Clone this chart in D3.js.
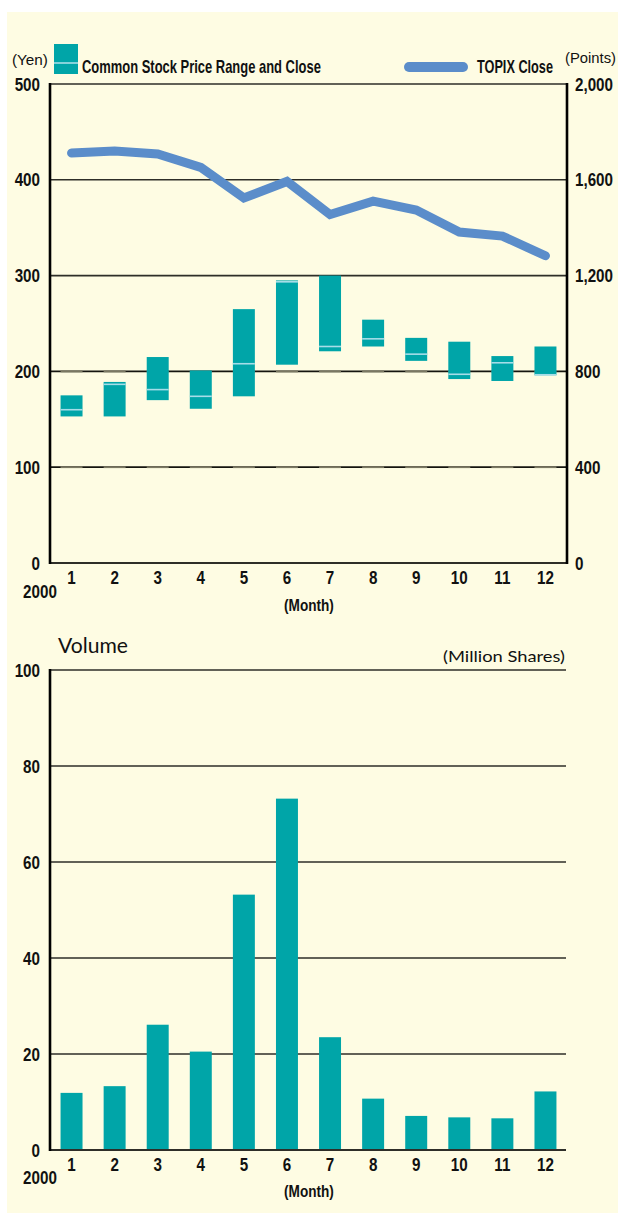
<!DOCTYPE html>
<html>
<head>
<meta charset="utf-8">
<script src="https://cdn.jsdelivr.net/npm/d3@7"></script>
<style>
  body { margin: 0; background: #fff; }
  svg { display: block; }
  .tick text { font-family: "Liberation Sans", sans-serif; font-weight: bold; font-size: 19px; fill: #111; }
</style>
</head>
<body>
<script>
// data
var months = ["1", "2", "3", "4", "5", "6", "7", "8", "9", "10", "11", "12"];
var priceHigh  = [175, 189, 215, 201, 265, 295, 300, 254, 235, 231, 216, 226];
var priceLow   = [153, 153, 170, 161, 174, 207, 221, 226, 211, 192, 190, 196];
var priceClose = [160, 186.5, 181, 174, 208, 293.5, 226, 234, 218, 197, 209, 196.5];
var topixClose = [1712, 1720, 1708, 1652, 1524, 1593, 1455, 1511, 1474, 1382, 1365, 1283];
var volume     = [11.9, 13.3, 26.1, 20.5, 53.2, 73.2, 23.5, 10.7, 7.1, 6.8, 6.6, 12.2];
var priceTicks = [0, 100, 200, 300, 400, 500];
var topixTicks = [0, 400, 800, 1200, 1600, 2000];
var volumeTicks = [0, 20, 40, 60, 80, 100];

var width = 618,
    height = 1213;

var teal = "#00a5a8",
    closeColor = "#a6dde8",
    topixColor = "#5b8dca",
    gridColor = "#2e2e28",
    panelColor = "#fefce3",
    font = "'Liberation Sans', sans-serif";

// the original type is a condensed face: squeeze each text around its anchor
function squeeze(sel, k) {
    sel.each(function() {
        var ax = +this.getAttribute("x") || 0;
        d3.select(this).attr("transform",
            "translate(" + ax + ",0) scale(" + k + ",1) translate(" + (-ax) + ",0)");
    });
}
// squeeze a text so it spans a given width
function fitTo(sel, w) {
    squeeze(sel, w / sel.node().getComputedTextLength());
}

var svg = d3.select("body")
    .append("svg")
    .attr("width", width)
    .attr("height", height);

svg.append("rect")
    .attr("x", 7).attr("y", 12)
    .attr("width", width - 7).attr("height", height - 12)
    .attr("fill", panelColor);

var left = 50, right = 567;

var x = d3.scaleBand()
    .domain(months)
    .range([left, right])
    .paddingInner(0.49)
    .paddingOuter(0.245);

// ---------- price chart ----------
var yPrice = d3.scaleLinear().domain([0, 500]).range([563, 84]);
var yTopix = d3.scaleLinear().domain([0, 2000]).range([563, 84]);

var priceG = svg.append("g");

priceG.selectAll("line.grid")
    .data([300, 400])
    .enter()
    .append("line")
    .attr("x1", left).attr("x2", right)
    .attr("y1", function(d) { return yPrice(d); })
    .attr("y2", function(d) { return yPrice(d); })
    .attr("stroke", gridColor)
    .attr("stroke-width", 1.6);

// the 100 and 200 lines look broken: lighter under each month column
[100, 200].forEach(function(v) {
    priceG.append("line")
        .attr("x1", left).attr("x2", right)
        .attr("y1", yPrice(v)).attr("y2", yPrice(v))
        .attr("stroke", "#15150f")
        .attr("stroke-width", 1.8);
    priceG.selectAll(null)
        .data(months)
        .enter()
        .append("line")
        .attr("x1", function(d) { return x(d); })
        .attr("x2", function(d) { return x(d) + x.bandwidth(); })
        .attr("y1", yPrice(v)).attr("y2", yPrice(v))
        .attr("stroke", "#7a7862")
        .attr("stroke-width", 1.8);
});

// price range boxes
priceG.selectAll("rect.range")
    .data(months)
    .enter()
    .append("rect")
    .attr("x", function(d) { return x(d); })
    .attr("width", x.bandwidth())
    .attr("y", function(d, i) { return yPrice(priceHigh[i]); })
    .attr("height", function(d, i) { return yPrice(priceLow[i]) - yPrice(priceHigh[i]); })
    .attr("fill", teal);

priceG.selectAll("line.close")
    .data(months)
    .enter()
    .append("line")
    .attr("x1", function(d) { return x(d); })
    .attr("x2", function(d) { return x(d) + x.bandwidth(); })
    .attr("y1", function(d, i) { return yPrice(priceClose[i]); })
    .attr("y2", function(d, i) { return yPrice(priceClose[i]); })
    .attr("stroke", closeColor)
    .attr("stroke-width", 1.6);

// TOPIX line
var line = d3.line()
    .x(function(d, i) { return x(months[i]) + x.bandwidth() / 2; })
    .y(function(d) { return yTopix(d); });

priceG.append("path")
    .datum(topixClose)
    .attr("d", line)
    .attr("fill", "none")
    .attr("stroke", topixColor)
    .attr("stroke-width", 9)
    .attr("stroke-linecap", "round")
    .attr("stroke-linejoin", "miter");

// frame
priceG.append("line")
    .attr("x1", left).attr("x2", right)
    .attr("y1", yPrice(500)).attr("y2", yPrice(500))
    .attr("stroke", gridColor).attr("stroke-width", 1.6);
priceG.append("line")
    .attr("x1", left).attr("x2", right)
    .attr("y1", yPrice(0)).attr("y2", yPrice(0))
    .attr("stroke", gridColor).attr("stroke-width", 2);
priceG.append("line")
    .attr("x1", left).attr("x2", left)
    .attr("y1", yPrice(500) - 1).attr("y2", yPrice(0) + 1)
    .attr("stroke", "#000").attr("stroke-width", 2.6);
priceG.append("line")
    .attr("x1", right).attr("x2", right)
    .attr("y1", yPrice(500) - 1).attr("y2", yPrice(0) + 1)
    .attr("stroke", "#000").attr("stroke-width", 2.6);

// axes
var yAxisL = priceG.append("g")
    .attr("transform", "translate(" + left + ",0)")
    .call(d3.axisLeft(yPrice).tickValues(priceTicks).tickSize(0).tickPadding(10));
yAxisL.select(".domain").remove();

var yAxisR = priceG.append("g")
    .attr("transform", "translate(" + right + ",0)")
    .call(d3.axisRight(yTopix).tickValues(topixTicks).tickSize(0).tickPadding(8).tickFormat(d3.format(",")));
yAxisR.select(".domain").remove();

var xAxisTop = priceG.append("g")
    .attr("transform", "translate(0," + yPrice(0) + ")")
    .call(d3.axisBottom(x).tickSize(0).tickPadding(8));
xAxisTop.select(".domain").remove();

// legend
var yen = priceG.append("text")
    .attr("x", 12).attr("y", 65)
    .attr("font-family", font)
    .attr("font-size", 15)
    .attr("fill", "#111")
    .text("(Yen)");
priceG.append("rect")
    .attr("x", 54).attr("y", 44)
    .attr("width", 24).attr("height", 30)
    .attr("fill", teal);
priceG.append("line")
    .attr("x1", 54).attr("x2", 78)
    .attr("y1", 63).attr("y2", 63)
    .attr("stroke", closeColor).attr("stroke-width", 1.6);
var legend1 = priceG.append("text")
    .attr("x", 82).attr("y", 73)
    .attr("font-family", font)
    .attr("font-weight", "bold")
    .attr("font-size", 19)
    .attr("fill", "#111")
    .text("Common Stock Price Range and Close");
priceG.append("line")
    .attr("x1", 409).attr("x2", 463)
    .attr("y1", 67).attr("y2", 67)
    .attr("stroke", topixColor).attr("stroke-width", 10)
    .attr("stroke-linecap", "round");
var legend2 = priceG.append("text")
    .attr("x", 477).attr("y", 73)
    .attr("font-family", font)
    .attr("font-weight", "bold")
    .attr("font-size", 19)
    .attr("fill", "#111")
    .text("TOPIX Close");
var points = priceG.append("text")
    .attr("x", 565).attr("y", 63)
    .attr("font-family", font)
    .attr("font-size", 15)
    .attr("fill", "#111")
    .text("(Points)");

var yr1 = priceG.append("text")
    .attr("x", 40).attr("y", 598)
    .attr("text-anchor", "middle")
    .attr("font-family", font)
    .attr("font-weight", "bold")
    .attr("font-size", 19)
    .attr("fill", "#111")
    .text("2000");
var mo1 = priceG.append("text")
    .attr("x", 309).attr("y", 611)
    .attr("text-anchor", "middle")
    .attr("font-family", font)
    .attr("font-weight", "bold")
    .attr("font-size", 16)
    .attr("fill", "#111")
    .text("(Month)");

// ---------- volume chart ----------
var yVol = d3.scaleLinear().domain([0, 100]).range([1150, 670]);
var volG = svg.append("g");

volG.selectAll("line.grid")
    .data([20, 40, 60, 80, 100])
    .enter()
    .append("line")
    .attr("x1", left).attr("x2", right - 1)
    .attr("y1", function(d) { return yVol(d); })
    .attr("y2", function(d) { return yVol(d); })
    .attr("stroke", gridColor)
    .attr("stroke-width", 1.6);

volG.selectAll("rect.bar")
    .data(volume)
    .enter()
    .append("rect")
    .attr("x", function(d, i) { return x(months[i]); })
    .attr("width", x.bandwidth())
    .attr("y", function(d) { return yVol(d); })
    .attr("height", function(d) { return yVol(0) - yVol(d); })
    .attr("fill", teal);

volG.append("line")
    .attr("x1", left).attr("x2", right - 1)
    .attr("y1", yVol(0)).attr("y2", yVol(0))
    .attr("stroke", gridColor).attr("stroke-width", 2);
volG.append("line")
    .attr("x1", left).attr("x2", left)
    .attr("y1", yVol(100) - 1).attr("y2", yVol(0) + 1)
    .attr("stroke", "#000").attr("stroke-width", 2.6);

var vAxis = volG.append("g")
    .attr("transform", "translate(" + left + ",0)")
    .call(d3.axisLeft(yVol).tickValues(volumeTicks).tickSize(0).tickPadding(10));
vAxis.select(".domain").remove();

var xAxisBot = volG.append("g")
    .attr("transform", "translate(0," + yVol(0) + ")")
    .call(d3.axisBottom(x).tickSize(0).tickPadding(8));
xAxisBot.select(".domain").remove();

var volTitle = volG.append("text")
    .attr("x", 58).attr("y", 653)
    .attr("font-family", "Lato, sans-serif")
    .attr("font-size", 22)
    .attr("fill", "#111")
    .text("Volume");
var unitText = volG.append("text")
    .attr("x", 443).attr("y", 662)
    .attr("font-family", "Lato, sans-serif")
    .attr("font-size", 15)
    .attr("fill", "#111")
    .text("(Million Shares)");
var yr2 = volG.append("text")
    .attr("x", 40).attr("y", 1184)
    .attr("text-anchor", "middle")
    .attr("font-family", font)
    .attr("font-weight", "bold")
    .attr("font-size", 19)
    .attr("fill", "#111")
    .text("2000");
var mo2 = volG.append("text")
    .attr("x", 309).attr("y", 1197)
    .attr("text-anchor", "middle")
    .attr("font-family", font)
    .attr("font-weight", "bold")
    .attr("font-size", 16)
    .attr("fill", "#111")
    .text("(Month)");

squeeze(svg.selectAll(".tick text"), 0.8);
squeeze(yr1, 0.8);
squeeze(yr2, 0.8);
squeeze(mo1, 0.85);
squeeze(mo2, 0.85);
fitTo(yen, 36);
fitTo(points, 51);
fitTo(legend1, 239);
fitTo(legend2, 76);
fitTo(volTitle, 70);
fitTo(unitText, 122);
</script>
</body>
</html>
